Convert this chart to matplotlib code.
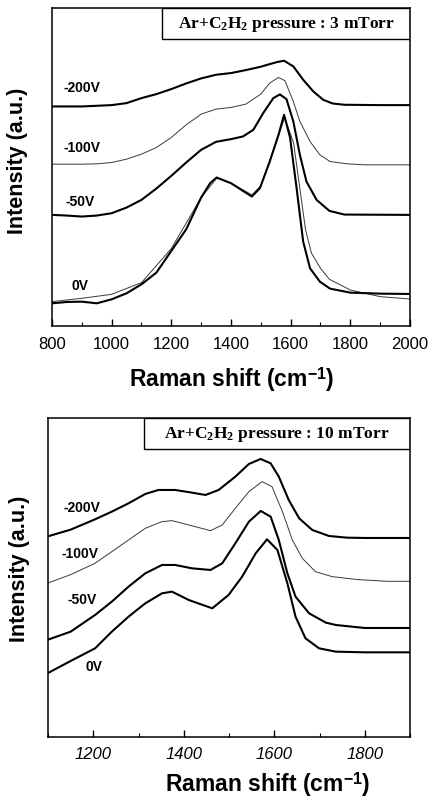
import numpy as np
import matplotlib
matplotlib.use("Agg")
import matplotlib.pyplot as plt
from matplotlib.patches import Rectangle
from matplotlib.ticker import MultipleLocator

plt.rcParams['font.family'] = ['Liberation Sans', 'DejaVu Sans']
plt.rcParams['mathtext.fontset'] = 'custom'
plt.rcParams['mathtext.rm'] = 'Liberation Serif:bold'
plt.rcParams['mathtext.it'] = 'Liberation Serif:bold'
plt.rcParams['mathtext.bf'] = 'Liberation Serif:bold'
plt.rcParams['mathtext.sf'] = 'Liberation Sans:bold'

# ---- 3 mTorr panel (intensity in arbitrary units) ----
t200_x = [800, 900, 950, 1000, 1050, 1100, 1150, 1200, 1250, 1300, 1350, 1400, 1450, 1500,
          1530, 1555, 1578, 1609, 1642, 1676, 1709, 1740, 1780, 1900, 2000]
t200_y = [658, 658, 660, 662, 668, 683, 695, 710, 727, 742, 753, 758, 767, 777,
          785, 791, 795, 778, 738, 703, 678, 667, 663, 662, 662]

t100_x = [800, 900, 950, 1000, 1050, 1100, 1150, 1200, 1250, 1300, 1350, 1400, 1450, 1500,
          1530, 1559, 1581, 1609, 1631, 1665, 1698, 1732, 1790, 1850, 2000]
t100_y = [485, 485, 486, 490, 500, 515, 535, 565, 603, 635, 650, 655, 665, 695,
          728, 745, 735, 673, 613, 553, 513, 493, 486, 483, 483]

t50_x = [800, 850, 900, 950, 1000, 1050, 1100, 1150, 1200, 1250, 1300, 1350, 1400, 1440,
         1475, 1508, 1542, 1564, 1586, 1609, 1631, 1653, 1687, 1730, 1780, 2000]
t50_y = [333, 331, 328, 331, 338, 355, 378, 412, 450, 490, 528, 552, 560, 568,
         588, 638, 683, 694, 680, 613, 513, 433, 378, 345, 334, 333]

t0_x = [800, 850, 900, 950, 1000, 1050, 1100, 1150, 1200, 1250, 1300, 1330, 1352, 1400,
        1440, 1470, 1497, 1530, 1560, 1578, 1598, 1620, 1642, 1665, 1698, 1732, 1800, 1900, 2000]
t0_y = [68, 72, 73, 68, 80, 98, 125, 160, 225, 290, 385, 428, 445, 428,
        405, 388, 413, 493, 575, 633, 565, 413, 253, 173, 133, 112, 100, 97, 96]

t0fit_x = [800, 900, 1000, 1100, 1200, 1300, 1352, 1400, 1470, 1500, 1540, 1580, 1610,
           1630, 1650, 1670, 1700, 1730, 1800, 1900, 2000]
t0fit_y = [73, 83, 95, 130, 232, 385, 443, 428, 393, 420, 520, 625, 548,
           418, 288, 218, 173, 140, 108, 88, 81]

# ---- 10 mTorr panel ----
b200_x = [1100, 1150, 1204, 1241, 1278, 1315, 1344, 1381, 1418, 1448, 1477, 1514, 1544, 1570,
          1592, 1610, 1632, 1655, 1684, 1721, 1760, 1800, 1900]
b200_y = [602, 622, 653, 676, 701, 729, 741, 741, 733, 726, 741, 781, 819, 834,
          821, 781, 711, 656, 621, 603, 598, 597, 597]

b100_x = [1100, 1150, 1204, 1241, 1278, 1315, 1352, 1374, 1411, 1459, 1485, 1514, 1544, 1573,
          1595, 1618, 1640, 1662, 1691, 1728, 1786, 1850, 1900]
b100_y = [462, 487, 521, 556, 591, 626, 646, 649, 636, 619, 636, 686, 736, 766,
          751, 676, 591, 536, 496, 481, 472, 467, 467]

b50_x = [1100, 1150, 1204, 1241, 1278, 1315, 1352, 1381, 1418, 1459, 1485, 1514, 1544, 1570,
         1592, 1610, 1629, 1647, 1677, 1714, 1736, 1800, 1900]
b50_y = [292, 316, 366, 406, 451, 491, 516, 516, 506, 501, 521, 581, 646, 678,
         661, 591, 491, 421, 371, 343, 336, 327, 327]

b0_x = [1100, 1150, 1204, 1241, 1278, 1315, 1352, 1374, 1411, 1463, 1499, 1529, 1559, 1584,
        1607, 1629, 1647, 1669, 1699, 1736, 1800, 1900]
b0_y = [192, 228, 266, 316, 361, 401, 431, 436, 411, 386, 426, 481, 551, 593,
        561, 461, 361, 296, 266, 256, 254, 254]

labels = ['-200V', '-100V', '-50V', '0V']
top_label_x = [900, 900, 895, 895]
top_label_y = [713, 533, 373, 120]
bot_label_x = [1174, 1170, 1176, 1201]
bot_label_y = [687, 550, 412, 210]

fig = plt.figure(figsize=(4.31, 8.01), dpi=100)
ax1 = fig.add_axes([0.1206, 0.593, 0.8306, 0.397])
ax2 = fig.add_axes([0.1114, 0.0799, 0.8399, 0.3983])

thick = dict(color='black', lw=1.5)
thin = dict(color='#3a3a3a', lw=0.7)

ax1.plot(t200_x, t200_y, **thick)
ax1.plot(t100_x, t100_y, **thin)
ax1.plot(t50_x, t50_y, **thick)
ax1.plot(t0fit_x, t0fit_y, **thin)
ax1.plot(t0_x, t0_y, **thick)
ax1.set_xlim(800, 2000)
ax1.set_ylim(0, 953)
ax1.xaxis.set_major_locator(MultipleLocator(200))
ax1.xaxis.set_minor_locator(MultipleLocator(100))

ax2.plot(b200_x, b200_y, **thick)
ax2.plot(b100_x, b100_y, **thin)
ax2.plot(b50_x, b50_y, **thick)
ax2.plot(b0_x, b0_y, **thick)
ax2.set_xlim(1100, 1900)
ax2.set_ylim(0, 957)
ax2.xaxis.set_major_locator(MultipleLocator(200))
ax2.xaxis.set_minor_locator(MultipleLocator(100))

for lx, ly, lab in zip(top_label_x, top_label_y, labels):
    ax1.text(lx, ly, lab, ha='center', va='center', fontsize=10, fontweight='bold')
for lx, ly, lab in zip(bot_label_x, bot_label_y, labels):
    ax2.text(lx, ly, lab, ha='center', va='center', fontsize=10, fontweight='bold')

for ax in (ax1, ax2):
    ax.set_yticks([])
    for s in ax.spines.values():
        s.set_linewidth(1.1)
    ax.tick_params(axis='x', which='major', direction='in', length=5, width=1.0)
    ax.tick_params(axis='x', which='minor', direction='in', length=3, width=0.8)

ax1.tick_params(axis='x', which='major', labelsize=12, pad=8)
ax2.tick_params(axis='x', which='major', labelsize=12, pad=7)
for t in ax2.get_xticklabels():
    t.set_fontstyle('italic')

# pressure boxes
ax1.add_patch(Rectangle((0.307, 0.9025), 0.693, 0.0975, transform=ax1.transAxes,
                        fill=False, lw=1.0, ec='black'))
ax1.text(0.6535, 0.948, r'Ar+C$_2$H$_2$ pressure : 3 mTorr', transform=ax1.transAxes,
         ha='center', va='center', fontsize=12.5, family='Liberation Serif', fontweight='bold')
ax2.add_patch(Rectangle((0.266, 0.903), 0.734, 0.097, transform=ax2.transAxes,
                        fill=False, lw=1.0, ec='black'))
ax2.text(0.633, 0.948, r'Ar+C$_2$H$_2$ pressure : 10 mTorr', transform=ax2.transAxes,
         ha='center', va='center', fontsize=12.5, family='Liberation Serif', fontweight='bold')

# axis titles
fig.text(18 / 431, 1 - 161 / 801, 'Intensity (a.u.)', rotation=90, ha='center', va='center',
         fontsize=15.5, fontweight='bold')
fig.text(20 / 431, 1 - 569 / 801, 'Intensity (a.u.)', rotation=90, ha='center', va='center',
         fontsize=15.5, fontweight='bold')
fig.text(232 / 431, 1 - 380 / 801, r'Raman shift (cm$^{\mathsf{-1}}$)', ha='center', va='center',
         fontsize=16.5, fontweight='bold')
fig.text(268 / 431, 1 - 785 / 801, r'Raman shift (cm$^{\mathsf{-1}}$)', ha='center', va='center',
         fontsize=16.5, fontweight='bold')

fig.savefig('out.png', dpi=100)
